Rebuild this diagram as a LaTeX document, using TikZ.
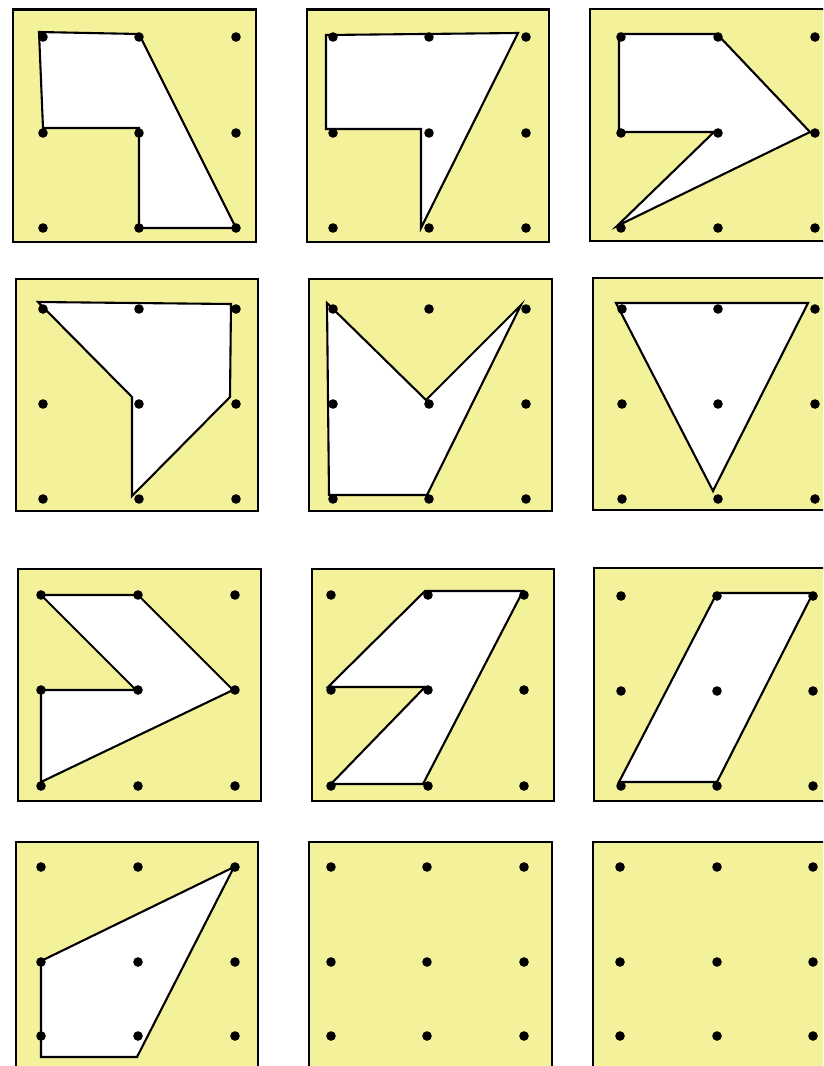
\documentclass[tikz,border=0pt]{standalone}
\definecolor{padyellow}{RGB}{244,241,155}
\tikzset{
  panel/.style={fill=padyellow, draw=black, line width=2.3pt},
  poly/.style={fill=white, draw=black, line width=2.1pt, line join=miter},
  peg/.style={fill=black, draw=none}
}
\begin{document}
\begin{tikzpicture}[x=1pt,y=-1pt]
\useasboundingbox (0,0) rectangle (823,1066);
\clip (0,0) rectangle (823,1066);
% panels
\draw[panel] (13,9.5) rectangle (256,242);
\draw[panel] (307,9.5) rectangle (549,242);
\draw[panel] (590,9) rectangle (830,241);
\draw[panel] (16,279) rectangle (258,511);
\draw[panel] (309,279) rectangle (552,511);
\draw[panel] (593,278) rectangle (830,510);
\draw[panel] (18,569) rectangle (261,801);
\draw[panel] (312,569) rectangle (554,801);
\draw[panel] (594,568) rectangle (830,801);
\draw[panel] (16,842) rectangle (258,1080);
\draw[panel] (309,842) rectangle (552,1080);
\draw[panel] (593,842) rectangle (830,1080);
% shapes
\draw[poly] (39,32) -- (139,34) -- (236,228) -- (139,228) -- (139,128) -- (43,128) -- cycle;
\draw[poly] (326,35) -- (518,33) -- (421,228) -- (421,129) -- (326,129) -- cycle;
\draw[poly] (619,34) -- (717,34) -- (810,132) -- (617,226) -- (714,132) -- (619,132) -- cycle;
\draw[poly] (38,302) -- (231,304) -- (230,397) -- (132,496) -- (132,397) -- cycle;
\draw[poly] (327,303) -- (426,400) -- (521,305) -- (427,495) -- (329,495) -- cycle;
\draw[poly] (616,303) -- (808,303) -- (713,491) -- cycle;
\draw[poly] (41,595) -- (138,595) -- (233,690) -- (41,782) -- (41,690) -- (136,690) -- cycle;
\draw[poly] (425,591) -- (523,591) -- (423,784) -- (331,784) -- (425,687) -- (328,687) -- cycle;
\draw[poly] (717,593) -- (813,593) -- (717,782) -- (619,782) -- cycle;
\draw[poly] (234,867) -- (137,1057) -- (41,1057) -- (41,961) -- cycle;
% pegs
\foreach \xa/\xb/\xc/\ya/\yb/\yc in {
  43/139/236/37/133/228, 333/429/526/37/133/228, 621/718/815/37/133/228,
  43/139/236/309/404/499, 333/429/526/309/404/499, 622/718/815/309/404/499,
  41/138/235/595/690/786, 331/428/524/595/690/786, 621/717/813/596/691/786,
  41/138/235/867/962/1036, 331/427/524/867/962/1036, 620/717/813/867/962/1036}{
  \foreach \px in {\xa,\xb,\xc}{
    \foreach \py in {\ya,\yb,\yc}{
      \fill[peg] (\px,\py) circle[radius=4.8pt];
    }
  }
}
\end{tikzpicture}
\end{document}
